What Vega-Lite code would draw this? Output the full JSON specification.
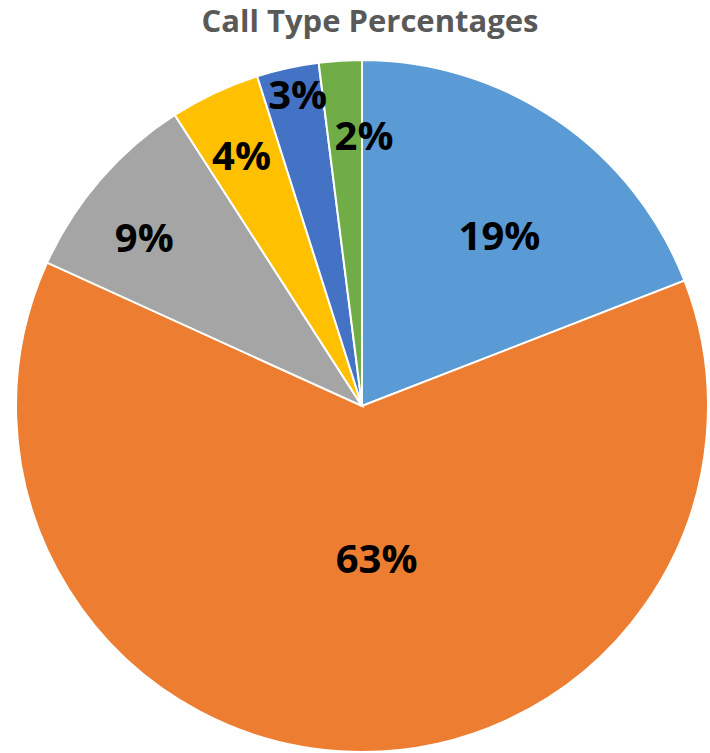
{
  "$schema": "https://vega.github.io/schema/vega-lite/v6.json",
  "width": 724,
  "height": 724,
  "padding": {"top": 44, "left": 0, "right": 0, "bottom": 0},
  "autosize": "none",
  "background": "white",
  "title": {
    "text": "Call Type Percentages",
    "font": "Open Sans",
    "fontSize": 31,
    "fontWeight": "bold",
    "color": "#595959",
    "anchor": "middle",
    "dx": 8,
    "offset": 5
  },
  "view": {"stroke": null},
  "data": {
    "values": [
      {"call_type": "Type 1", "order": 1, "value": 0.191},
      {"call_type": "Type 2", "order": 2, "value": 0.627},
      {"call_type": "Type 3", "order": 3, "value": 0.091},
      {"call_type": "Type 4", "order": 4, "value": 0.042},
      {"call_type": "Type 5", "order": 5, "value": 0.029},
      {"call_type": "Type 6", "order": 6, "value": 0.020}
    ]
  },
  "encoding": {
    "theta": {"field": "value", "type": "quantitative", "stack": true},
    "order": {"field": "order", "type": "quantitative"}
  },
  "layer": [
    {
      "mark": {"type": "arc", "outerRadius": 346, "stroke": "white", "strokeWidth": 2},
      "encoding": {
        "color": {
          "field": "call_type",
          "type": "nominal",
          "scale": {
            "domain": ["Type 1", "Type 2", "Type 3", "Type 4", "Type 5", "Type 6"],
            "range": ["#5B9BD5", "#ED7D31", "#A5A5A5", "#FFC000", "#4472C4", "#70AD47"]
          },
          "legend": null
        }
      }
    },
    {
      "mark": {"type": "text", "radius": 215, "font": "Open Sans", "fontSize": 40, "fontWeight": "bold", "color": "black", "baseline": "middle", "dx": 16, "dy": 9},
      "encoding": {
        "text": {"field": "value", "type": "quantitative", "format": ".0%"},
        "opacity": {"condition": {"test": "datum.call_type == 'Type 1'", "value": 1}, "value": 0}
      }
    },
    {
      "mark": {"type": "text", "radius": 155, "font": "Open Sans", "fontSize": 40, "fontWeight": "bold", "color": "black", "baseline": "middle", "dx": 19},
      "encoding": {
        "text": {"field": "value", "type": "quantitative", "format": ".0%"},
        "opacity": {"condition": {"test": "datum.call_type == 'Type 2'", "value": 1}, "value": 0}
      }
    },
    {
      "mark": {"type": "text", "radius": 276, "font": "Open Sans", "fontSize": 40, "fontWeight": "bold", "color": "black", "baseline": "middle", "dx": -9, "dy": 15},
      "encoding": {
        "text": {"field": "value", "type": "quantitative", "format": ".0%"},
        "opacity": {"condition": {"test": "datum.call_type == 'Type 3'", "value": 1}, "value": 0}
      }
    },
    {
      "mark": {"type": "text", "radius": 276, "font": "Open Sans", "fontSize": 40, "fontWeight": "bold", "color": "black", "baseline": "middle", "dx": -3, "dy": 2},
      "encoding": {
        "text": {"field": "value", "type": "quantitative", "format": ".0%"},
        "opacity": {"condition": {"test": "datum.call_type == 'Type 4'", "value": 1}, "value": 0}
      }
    },
    {
      "mark": {"type": "text", "radius": 318, "font": "Open Sans", "fontSize": 40, "fontWeight": "bold", "color": "black", "baseline": "middle", "dx": 4, "dy": 2},
      "encoding": {
        "text": {"field": "value", "type": "quantitative", "format": ".0%"},
        "opacity": {"condition": {"test": "datum.call_type == 'Type 5'", "value": 1}, "value": 0}
      }
    },
    {
      "mark": {"type": "text", "radius": 271, "font": "Open Sans", "fontSize": 40, "fontWeight": "bold", "color": "black", "baseline": "middle", "dx": 19, "dy": 2},
      "encoding": {
        "text": {"field": "value", "type": "quantitative", "format": ".0%"},
        "opacity": {"condition": {"test": "datum.call_type == 'Type 6'", "value": 1}, "value": 0}
      }
    }
  ]
}
